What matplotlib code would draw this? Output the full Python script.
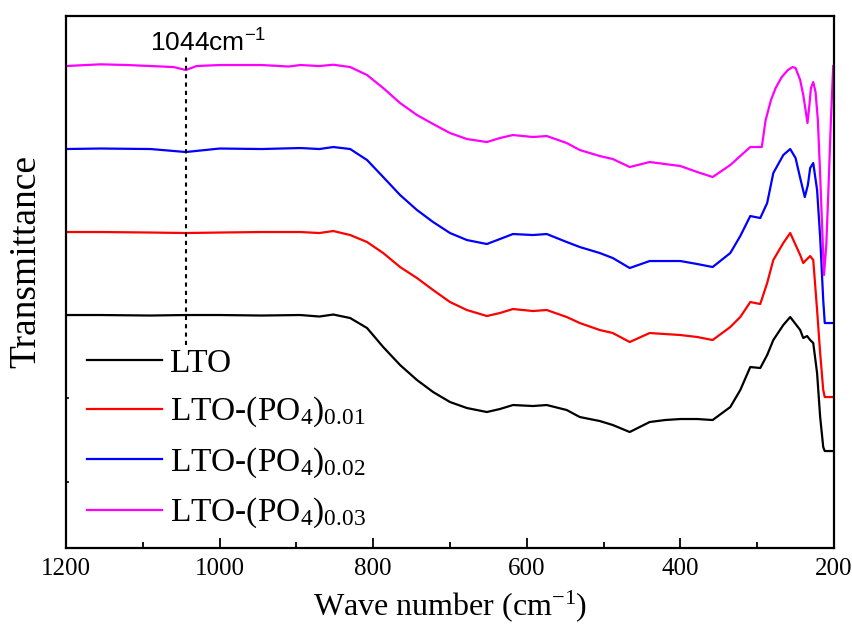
import matplotlib
matplotlib.use("Agg")
import matplotlib.pyplot as plt

plt.rcParams['font.family'] = ['Liberation Serif', 'DejaVu Serif']
plt.rcParams['mathtext.fontset'] = 'stix'

# wave numbers (cm-1) and transmittance (a.u., stacked)
wn_lto = [1200, 1155, 1090, 1044, 1000, 945, 895, 870, 852, 830, 808, 787, 765, 743, 722, 700,
          678, 652, 635, 618, 592, 574, 548, 531, 505, 488, 466, 440, 420, 400, 378, 358,
          335, 322, 309, 296, 287, 279, 266, 257, 244, 240, 235, 231, 227, 222, 218, 214,
          212, 208, 201]
t_lto = [233, 233, 232.5, 233, 233, 232.5, 233, 231.5, 233.5, 230, 220, 201, 183, 168, 156, 146,
         140, 136, 139, 143, 142, 143, 138, 131, 127, 123, 116, 126, 128, 129, 129, 128,
         141, 158, 181, 180, 193, 208, 223, 231, 218, 210, 212, 208, 205, 175, 131, 101,
         97, 97, 97]

wn_p01 = wn_lto
t_p01 = [316, 316, 315.5, 315, 315.5, 316, 316, 315, 317, 313, 306, 295, 281, 270, 258, 246,
         238, 232, 235, 239, 237, 238, 231, 225, 218, 215, 206, 215, 214, 213, 211, 208,
         221, 231, 246, 244, 265, 288, 305, 315, 293, 285, 289, 292, 288, 238, 195, 158,
         151, 151, 151]

wn_p02 = [1200, 1155, 1090, 1044, 1000, 945, 895, 870, 852, 830, 808, 787, 765, 743, 722, 700,
          678, 652, 635, 618, 592, 574, 548, 531, 505, 488, 466, 440, 420, 400, 378, 358,
          335, 322, 309, 296, 287, 279, 266, 257, 250, 244, 238, 234, 231, 227, 222, 218,
          214, 212, 208, 201]
t_p02 = [399, 399.5, 399, 396, 399.5, 399, 400, 399, 401, 399, 388, 371, 353, 338, 326, 315,
         308, 304, 309, 314, 313, 314, 306, 301, 295, 290, 280, 287, 287, 287, 284, 281,
         295, 312, 332, 330, 345, 375, 393, 399, 390, 370, 351, 363, 380, 385, 358, 311,
         248, 225, 225, 225]

wn_p03 = [1200, 1155, 1120, 1090, 1060, 1044, 1030, 1000, 945, 910, 895, 870, 852, 830, 808, 787,
          765, 743, 722, 700, 678, 652, 635, 618, 592, 574, 548, 531, 505, 488, 466, 440,
          420, 400, 378, 358, 335, 322, 309, 294, 289, 282, 276, 268, 260, 254, 250, 244,
          240, 237, 234.5, 232, 230, 227, 224, 221, 218, 215, 213, 210, 207, 204, 201]
t_p03 = [482, 483.7, 483, 482, 481, 478, 482, 483, 483, 481.5, 483, 482, 483.3, 481, 473, 460,
         445, 433, 424, 415, 409, 406, 410, 413, 411, 412, 405, 398, 392, 389, 381, 386,
         384, 382, 376, 371, 383, 392, 401, 401, 428, 448, 460, 471, 478, 481, 480, 468,
         453, 438, 425, 443, 460, 466, 456, 428, 373, 313, 273, 303, 363, 428, 482]

series = [
    (wn_lto, t_lto, 'black', 'LTO'),
    (wn_p01, t_p01, 'red', r'LTO-(PO$\mathregular{_4}$)$\mathregular{_{0.01}}$'),
    (wn_p02, t_p02, 'blue', r'LTO-(PO$\mathregular{_4}$)$\mathregular{_{0.02}}$'),
    (wn_p03, t_p03, 'magenta', r'LTO-(PO$\mathregular{_4}$)$\mathregular{_{0.03}}$'),
]

peak_wn = 1044
peak_label = r'1044cm$\mathregular{^{-1}}$'
y_ticks = [66.5, 150, 233, 316, 399, 482]

fig = plt.figure(figsize=(8.53, 6.31), dpi=100)
ax = fig.add_axes([0.0774, 0.1315, 0.9003, 0.8431])

for wn, t, c, lab in series:
    ax.plot(wn, t, color=c, linewidth=1.6, label=lab, solid_joinstyle='round')

# marker for the P-O band
ax.plot([peak_wn, peak_wn], [203, 491], color='black', linewidth=1.5, linestyle=(0, (2, 2)))
ax.text(1091, 496, peak_label, family=['Liberation Sans', 'DejaVu Sans'], fontsize=19,
        ha='left', va='baseline')

ax.set_xlim(1200, 200)
ax.set_ylim(0, 532)
ax.set_xticks([1200, 1000, 800, 600, 400, 200])
ax.set_xticks([1100, 900, 700, 500, 300], minor=True)
ax.set_yticks(y_ticks)
ax.set_yticklabels([])
ax.tick_params(axis='x', which='major', direction='in', length=7, width=1.3, labelsize=18, pad=7)
ax.tick_params(axis='x', which='minor', direction='in', length=4, width=1.3)
ax.tick_params(axis='y', direction='in', length=2.5, width=1.2)
for s in ax.spines.values():
    s.set_linewidth(1.6)

ax.set_xlabel(r'Wave number (cm$\mathregular{^{-1}}$)', fontsize=23, labelpad=6)
ax.set_ylabel('Transmittance', fontsize=27)
ax.yaxis.set_label_coords(-0.029, 0.538)

ax.legend(loc='upper left', bbox_to_anchor=(0.027, 0.375), frameon=False, fontsize=24,
          handlelength=2.25, handletextpad=0.25, borderpad=0, borderaxespad=0,
          labelspacing=0.48)

fig.savefig('out.png', dpi=100)
